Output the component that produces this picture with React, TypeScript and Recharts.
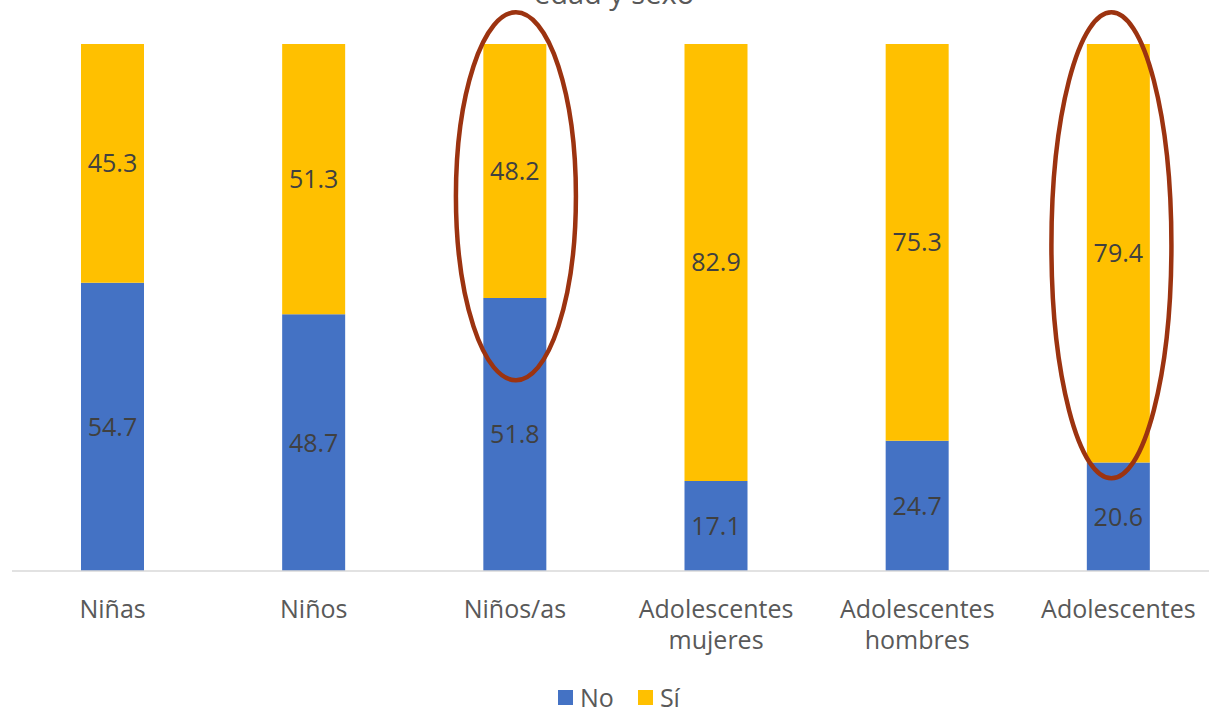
import React from 'react';
import {
  BarChart,
  Bar,
  XAxis,
  YAxis,
  LabelList,
  Legend,
  ReferenceDot
} from 'recharts';

const categories = ['Niñas', 'Niños', 'Niños/as', 'Adolescentes mujeres', 'Adolescentes hombres', 'Adolescentes'];
const noValues = [54.7, 48.7, 51.8, 17.1, 24.7, 20.6];
const siValues = [45.3, 51.3, 48.2, 82.9, 75.3, 79.4];
const titleText = 'edad y sexo';

// highlighted groups: category + vertical centre of the ring (in % units)
const highlights = [
  { category: 'Niños/as', center: 71.1, rx: 60, ry: 184, dx: 1 },
  { category: 'Adolescentes', center: 61.8, rx: 60, ry: 233, dx: -7 }
];

const data = categories.map((name, i) => ({ name, No: noValues[i], Si: siValues[i] }));

const FONT = '"Open Sans", sans-serif';
const BLUE = '#4472C4';
const YELLOW = '#FFC000';
const RING = '#9C3310';

const CategoryTick = (props: any) => {
  const { x, y, payload } = props;
  const lines = String(payload.value).split(' ');
  return (
    <text x={x} y={y + 39} textAnchor="middle" fill="#595959" fontSize={25} fontFamily={FONT}>
      {lines.map((l, i) => (
        <tspan key={i} x={x} dy={i === 0 ? 0 : 31}>{l}</tspan>
      ))}
    </text>
  );
};

const LegendContent = () => (
  <div style={{ display: 'flex', alignItems: 'center', paddingLeft: 558, fontFamily: FONT, fontSize: 25, color: '#595959', height: 30 }}>
    <span style={{ width: 15, height: 15, background: BLUE, display: 'inline-block', marginRight: 7 }} />
    <span style={{ marginRight: 24 }}>No</span>
    <span style={{ width: 15, height: 15, background: YELLOW, display: 'inline-block', marginRight: 7 }} />
    <span>Sí</span>
  </div>
);

export default function App() {
  return (
    <div style={{ position: 'absolute', left: 0, top: 0, width: 1209, height: 716, overflow: 'hidden', background: '#fff' }}>
      <BarChart width={1219} height={716} data={data} margin={{ top: 44, right: 0, left: 12, bottom: 85 }}>
        <XAxis dataKey="name" axisLine={{ stroke: '#D9D9D9', strokeWidth: 1.5 }} tickLine={false} tick={<CategoryTick />} interval={0} />
        <YAxis hide domain={[0, 100]} />
        <Bar dataKey="No" stackId="a" fill={BLUE} barSize={63} isAnimationActive={false}>
          <LabelList dataKey="No" position="center" fill="#404040" fontSize={25} fontFamily={FONT} formatter={(v: any) => Number(v).toFixed(1)} />
        </Bar>
        <Bar dataKey="Si" name="Sí" stackId="a" fill={YELLOW} barSize={63} isAnimationActive={false}>
          <LabelList dataKey="Si" position="center" fill="#404040" fontSize={25} fontFamily={FONT} formatter={(v: any) => Number(v).toFixed(1)} />
        </Bar>
        {highlights.map((h) => (
          <ReferenceDot
            key={h.category}
            x={h.category}
            y={h.center}
            ifOverflow="visible"
            shape={(p: any) => (
              <ellipse cx={p.cx + h.dx} cy={p.cy} rx={h.rx} ry={h.ry} fill="none" stroke={RING} strokeWidth={4.5} />
            )}
          />
        ))}
        <Legend verticalAlign="bottom" content={<LegendContent />} wrapperStyle={{ bottom: 4, left: 0, width: 1209 }} />
      </BarChart>
      <svg width={1209} height={20} style={{ position: 'absolute', left: 0, top: 0 }}>
        <text x={614} y={4} textAnchor="middle" fill="#595959" fontSize={29} fontFamily={FONT}>{titleText}</text>
      </svg>
    </div>
  );
}
